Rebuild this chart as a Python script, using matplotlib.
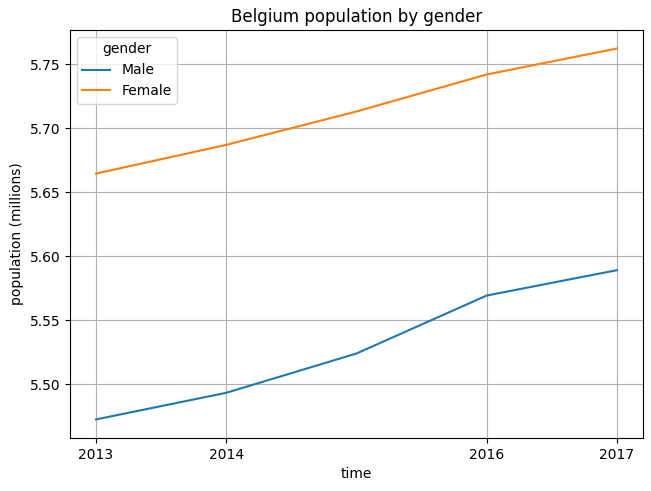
import numpy as np
import pandas as pd
import matplotlib
matplotlib.use('Agg')
import matplotlib.pyplot as plt

# Population in millions.
years = [2013, 2014, 2015, 2016, 2017]
male = [5.4727, 5.4935, 5.5242, 5.5695, 5.5893]
female = [5.6648, 5.6872, 5.7133, 5.7422, 5.7625]
tick_years = [2013, 2014, 2016, 2017]

df = pd.DataFrame({"Male": male, "Female": female}, index=years)
df.index.name = "time"
df.columns.name = "gender"

fig, ax = plt.subplots(figsize=(6.51, 4.91), dpi=100)
fig.subplots_adjust(left=0.1075, right=0.9877, bottom=0.108, top=0.939)
df.plot(ax=ax)

ax.set_xticks(tick_years)
ax.set_xticklabels([str(y) for y in tick_years])
ax.grid(True)
ax.set_title("Belgium population by gender")
ax.set_xlabel("time")
ax.set_ylabel("population (millions)")
ax.legend(title="gender", loc="upper left")

fig.savefig("out.png")
